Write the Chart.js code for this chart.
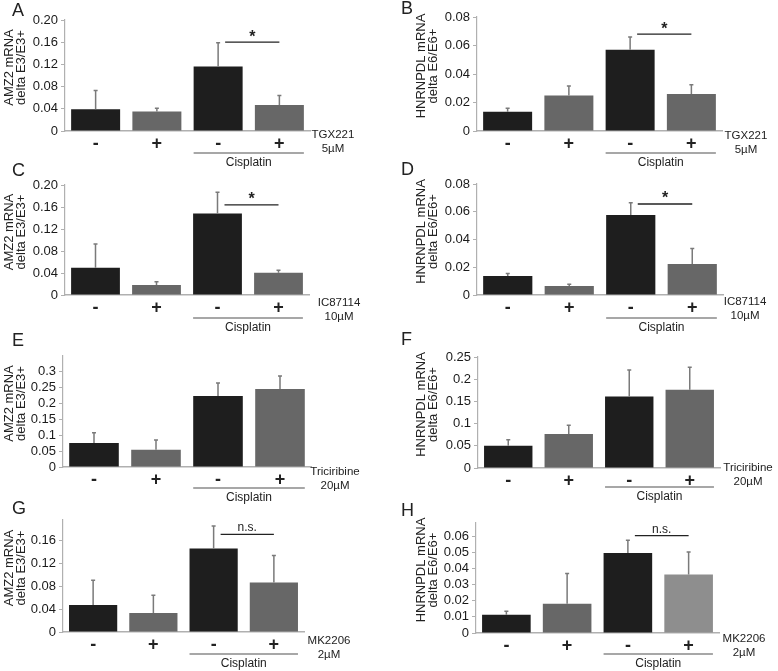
<!DOCTYPE html>
<html>
<head>
<meta charset="utf-8">
<script src="https://cdn.jsdelivr.net/npm/chart.js@4.4.0/dist/chart.umd.min.js"></script>
<style>
  html, body { margin: 0; padding: 0; background: #fff; }
  #wrap { position: relative; width: 778px; height: 671px; overflow: hidden; }
  #wrap canvas { position: absolute; left: 0; top: 0; }
</style>
</head>
<body>
<div id="wrap"></div>
<script>
// x categories (inhibitor -/+), the last two are with cisplatin
const groups = ['-', '+', '-', '+'];

// means and SD (upper error only)
const amz2Tgx = [0.039, 0.035, 0.116, 0.047];
const amz2TgxSd = [0.034, 0.006, 0.043, 0.017];
const hnrTgx = [0.0135, 0.025, 0.057, 0.026];
const hnrTgxSd = [0.0025, 0.0065, 0.009, 0.0065];

const amz2Ic = [0.0497, 0.018, 0.148, 0.0406];
const amz2IcSd = [0.043, 0.006, 0.039, 0.0042];
const hnrIc = [0.0137, 0.0065, 0.0577, 0.0223];
const hnrIcSd = [0.0018, 0.0012, 0.0087, 0.0113];

const amz2Tri = [0.076, 0.054, 0.224, 0.246];
const amz2TriSd = [0.032, 0.031, 0.041, 0.041];
const hnrTri = [0.05, 0.0765, 0.161, 0.176];
const hnrTriSd = [0.0137, 0.02, 0.06, 0.051];

const amz2Mk = [0.047, 0.033, 0.1455, 0.086];
const amz2MkSd = [0.043, 0.031, 0.039, 0.047];
const hnrMk = [0.0114, 0.0182, 0.0497, 0.0364];
const hnrMkSd = [0.0021, 0.0187, 0.0079, 0.0139];

// y tick labels
const ticksAmz2 = ['0', '0.04', '0.08', '0.12', '0.16', '0.20'];
const ticksHnr = ['0', '0.02', '0.04', '0.06', '0.08'];
const ticksAmz2Tri = ['0', '0.05', '0.1', '0.15', '0.2', '0.25', '0.3'];
const ticksHnrTri = ['0', '0.05', '0.1', '0.15', '0.2', '0.25'];
const ticksAmz2Mk = ['0', '0.04', '0.08', '0.12', '0.16'];
const ticksHnrMk = ['0', '0.01', '0.02', '0.03', '0.04', '0.05', '0.06'];

const titleAmz2 = ['AMZ2 mRNA', 'delta E3/E3+'];
const titleHnr = ['HNRNPDL mRNA', 'delta E6/E6+'];

const dark = '#1e1e1e';
const gray = '#676767';
const light = '#8e8e8e';
const fam = '"Liberation Sans", Arial, sans-serif';

Chart.defaults.font.family = fam;

const W = 778, H = 671;

const panels = [
  { letter: 'A', col: 0, L: 65, R: 310, T: 20, B: 131, max: 0.2, ticks: ticksAmz2, means: amz2Tgx, sd: amz2TgxSd,
    title: titleAmz2, drug: ['TGX221', '5µM'], drugX: 333, drugDy: 4, cisDy: 22, sig: '*', sigY: 0.160, letterY: 11 },
  { letter: 'B', col: 1, L: 477, R: 722, T: 17, B: 131, max: 0.08, ticks: ticksHnr, means: hnrTgx, sd: hnrTgxSd,
    title: titleHnr, drug: ['TGX221', '5µM'], drugX: 746, drugDy: 5, cisDy: 22, sig: '*', sigY: 0.068, letterY: 9 },
  { letter: 'C', col: 0, L: 65, R: 309, T: 185, B: 295, max: 0.2, ticks: ticksAmz2, means: amz2Ic, sd: amz2IcSd,
    title: titleAmz2, drug: ['IC87114', '10µM'], drugX: 339, drugDy: 8, cisDy: 23, sig: '*', sigY: 0.164, letterY: 171 },
  { letter: 'D', col: 1, L: 477, R: 723, T: 184, B: 295, max: 0.08, ticks: ticksHnr, means: hnrIc, sd: hnrIcSd,
    title: titleHnr, drug: ['IC87114', '10µM'], drugX: 745, drugDy: 7, cisDy: 23, sig: '*', sigY: 0.0656, letterY: 170 },
  { letter: 'E', col: 0, L: 63, R: 311, T: 356, B: 467, max: 0.35, ticks: ticksAmz2Tri, means: amz2Tri, sd: amz2TriSd,
    title: titleAmz2, drug: ['Triciribine', '20µM'], drugX: 335, drugDy: 5, cisDy: 21, sig: null, letterY: 341 },
  { letter: 'F', col: 1, L: 478, R: 720, T: 357, B: 468, max: 0.25, ticks: ticksHnrTri, means: hnrTri, sd: hnrTriSd,
    title: titleHnr, drug: ['Triciribine', '20µM'], drugX: 748, drugDy: 0, cisDy: 19, sig: null, letterY: 340 },
  { letter: 'G', col: 0, L: 63, R: 304, T: 520, B: 632, max: 0.195, ticks: ticksAmz2Mk, means: amz2Mk, sd: amz2MkSd,
    title: titleAmz2, drug: ['MK2206', '2µM'], drugX: 329, drugDy: 9, cisDy: 22, sig: 'n.s.', sigY: 0.170, letterY: 509 },
  { letter: 'H', col: 1, L: 476, R: 719, T: 523, B: 633, max: 0.0683, ticks: ticksHnrMk, means: hnrMk, sd: hnrMkSd,
    title: titleHnr, drug: ['MK2206', '2µM'], drugX: 744, drugDy: 6, cisDy: 21, sig: 'n.s.', sigY: 0.0605, letterY: 511, lastLight: true }
];

const decor = {
  id: 'decor',
  afterDatasetsDraw(chart) {
    const p = chart.options.plugins.decor;
    const ctx = chart.ctx;
    const ys = chart.scales.y;
    const bars = chart.getDatasetMeta(0).data;
    const colX = p.col === 0 ? 0 : 389;
    ctx.save();

    // error bars, upper only
    ctx.strokeStyle = '#7a7a7a';
    ctx.lineWidth = 1.5;
    bars.forEach((bar, i) => {
      const top = ys.getPixelForValue(p.means[i] + p.sd[i]);
      ctx.beginPath();
      ctx.moveTo(bar.x, bar.y);
      ctx.lineTo(bar.x, top);
      ctx.moveTo(bar.x - 2, top);
      ctx.lineTo(bar.x + 2, top);
      ctx.stroke();
    });

    // significance line
    if (p.sig) {
      const sy = ys.getPixelForValue(p.sigY);
      const x1 = bars[2].x + 7, x2 = bars[3].x;
      ctx.strokeStyle = '#222';
      ctx.lineWidth = 1.3;
      ctx.beginPath();
      ctx.moveTo(x1, sy);
      ctx.lineTo(x2, sy);
      ctx.stroke();
      ctx.fillStyle = '#222';
      ctx.textAlign = 'center';
      if (p.sig === '*') {
        ctx.font = 'bold 16px ' + fam;
        ctx.textBaseline = 'middle';
        ctx.fillText('*', (x1 + x2) / 2, sy - 5);
      } else {
        ctx.font = '12px ' + fam;
        ctx.textBaseline = 'alphabetic';
        ctx.fillText(p.sig, (x1 + x2) / 2, sy - 3);
      }
    }

    // cisplatin bracket
    const bottom = chart.chartArea.bottom;
    const cx1 = bars[2].x - bars[2].width / 2;
    const cx2 = bars[3].x + bars[3].width / 2;
    const cy = bottom + p.cisDy;
    ctx.strokeStyle = '#8a8a8a';
    ctx.lineWidth = 1.5;
    ctx.beginPath();
    ctx.moveTo(cx1, cy);
    ctx.lineTo(cx2, cy);
    ctx.stroke();
    ctx.fillStyle = '#222';
    ctx.font = '12px ' + fam;
    ctx.textAlign = 'center';
    ctx.textBaseline = 'middle';
    ctx.fillText('Cisplatin', (cx1 + cx2) / 2, cy + 10);

    // drug label
    ctx.font = '11.5px ' + fam;
    ctx.fillText(p.drug[0], p.drugX, bottom + p.drugDy);
    ctx.fillText(p.drug[1], p.drugX, bottom + p.drugDy + 13.5);

    // y title (two rotated lines)
    const tx = p.col === 0 ? [colX + 9.5, colX + 21.5] : [colX + 32, colX + 44];
    const tyc = (chart.chartArea.top + bottom) / 2 - 8;
    ctx.font = '13px ' + fam;
    p.title.forEach((line, i) => {
      ctx.save();
      ctx.translate(tx[i], tyc);
      ctx.rotate(-Math.PI / 2);
      ctx.fillText(line, 0, 0);
      ctx.restore();
    });

    // panel letter
    ctx.font = '18px ' + fam;
    ctx.textAlign = 'left';
    ctx.fillText(p.letter, colX + 12, p.letterY);

    ctx.restore();
  }
};

const wrap = document.getElementById('wrap');

panels.forEach(p => {
  const canvas = document.createElement('canvas');
  canvas.width = W;
  canvas.height = H;
  wrap.appendChild(canvas);
  const colX = p.col === 0 ? 0 : 389;
  const colors = [dark, gray, dark, p.lastLight ? light : gray];

  new Chart(canvas, {
    type: 'bar',
    data: {
      labels: groups,
      datasets: [{
        data: p.means,
        backgroundColor: colors,
        borderWidth: 0,
        barPercentage: 0.8,
        categoryPercentage: 1
      }]
    },
    options: {
      responsive: false,
      animation: false,
      events: [],
      layout: { padding: { left: colX, top: p.T, right: W - p.R, bottom: H - p.B - 30 } },
      plugins: {
        legend: { display: false },
        tooltip: { enabled: false },
        decor: p
      },
      scales: {
        x: {
          grid: { display: false, drawTicks: false },
          border: { color: '#b0b0b0', width: 1.5 },
          ticks: { color: '#222', padding: 4, font: { size: 18, weight: 'bold', lineHeight: 1 } },
          afterFit: s => { s.height = 30; }
        },
        y: {
          min: 0,
          max: p.max,
          afterBuildTicks: s => { s.ticks = p.ticks.map(t => ({ value: Number(t) })); },
          ticks: { color: '#1a1a1a', padding: 3, autoSkip: false, font: { size: 13 }, callback: (v, i) => p.ticks[i] },
          grid: { drawOnChartArea: false, tickLength: 4, color: '#b0b0b0' },
          border: { color: '#b0b0b0', width: 1.2 },
          afterFit: s => { s.width = p.L - colX; }
        }
      }
    },
    plugins: [decor]
  });
});
</script>
</body>
</html>
